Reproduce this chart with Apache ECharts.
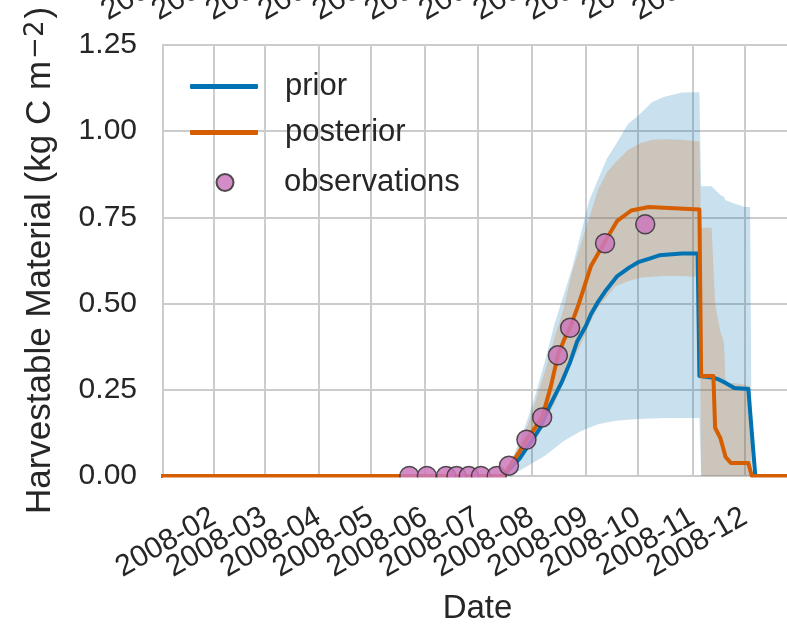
<!DOCTYPE html>
<html>
<head>
<meta charset="utf-8">
<title>Harvestable Material</title>
<script src="https://cdn.jsdelivr.net/npm/echarts@6/dist/echarts.min.js"></script>
<style>
  html, body { margin: 0; padding: 0; width: 787px; height: 624px; overflow: hidden; background: #fff; }
  #chart { width: 800px; height: 624px; }
</style>
</head>
<body>
<div id="chart"></div>
<script>
// 不确定区间（先验 / 后验）共用的日期
const bandDates = [
  '2008-01-01', '2008-07-14', '2008-07-20', '2008-07-25', '2008-07-30', '2008-08-04',
  '2008-08-09', '2008-08-14', '2008-08-19', '2008-08-24', '2008-08-29', '2008-09-03',
  '2008-09-08', '2008-09-13', '2008-09-18', '2008-09-25', '2008-10-02', '2008-10-09',
  '2008-10-16', '2008-10-26', '2008-11-05', '2008-11-06', '2008-11-12', '2008-11-14',
  '2008-11-17', '2008-11-19', '2008-11-20', '2008-11-25', '2008-12-01', '2008-12-04',
  '2008-12-05', '2008-12-31'
];
const priorLow = [
  0, 0, 0, 0.015, 0.03, 0.045, 0.06, 0.08, 0.10, 0.115, 0.13, 0.14,
  0.15, 0.155, 0.16, 0.163, 0.165, 0.167, 0.168, 0.168, 0.168, 0, 0, 0,
  0, 0, 0, 0, 0, 0, 0, 0
];
const priorHigh = [
  0, 0, 0.04, 0.10, 0.17, 0.25, 0.34, 0.44, 0.52, 0.60, 0.70, 0.80,
  0.86, 0.92, 0.96, 1.02, 1.05, 1.085, 1.10, 1.112, 1.113, 0.84, 0.84, 0.83,
  0.815, 0.81, 0.80, 0.79, 0.78, 0.78, 0, 0
];
const postLow = [
  0, 0, 0.02, 0.05, 0.08, 0.11, 0.16, 0.21, 0.27, 0.33, 0.38, 0.44,
  0.49, 0.52, 0.55, 0.565, 0.575, 0.578, 0.58, 0.58, 0.577, 0, 0, 0,
  0, 0, 0, 0, 0, 0, 0, 0
];
const postHigh = [
  0, 0, 0.04, 0.09, 0.15, 0.23, 0.31, 0.40, 0.48, 0.59, 0.67, 0.75,
  0.83, 0.88, 0.91, 0.945, 0.965, 0.975, 0.977, 0.975, 0.97, 0.72, 0.72, 0.50,
  0.42, 0.39, 0.27, 0.27, 0.265, 0.26, 0, 0
];

// 先验均值
const priorDates = [
  '2008-01-01', '2008-07-16', '2008-07-21', '2008-07-25', '2008-07-29', '2008-08-02',
  '2008-08-06', '2008-08-10', '2008-08-14', '2008-08-18', '2008-08-23', '2008-08-27',
  '2008-09-01', '2008-09-04', '2008-09-08', '2008-09-12', '2008-09-19', '2008-09-26',
  '2008-10-01', '2008-10-07', '2008-10-13', '2008-10-26', '2008-11-04', '2008-11-05',
  '2008-11-13', '2008-11-16', '2008-11-20', '2008-11-25', '2008-12-03', '2008-12-04',
  '2008-12-07', '2008-12-31'
];
const priorMean = [
  0, 0, 0.03, 0.05, 0.08, 0.11, 0.14, 0.19, 0.23, 0.27, 0.33, 0.39,
  0.435, 0.47, 0.505, 0.535, 0.58, 0.605, 0.62, 0.63, 0.64, 0.645, 0.645, 0.29,
  0.285, 0.28, 0.27, 0.255, 0.252, 0.25, 0, 0
];

// 后验均值
const postDates = [
  '2008-01-01', '2008-07-16', '2008-07-19', '2008-07-21', '2008-07-25', '2008-07-29',
  '2008-08-03', '2008-08-07', '2008-08-12', '2008-08-16', '2008-08-20', '2008-08-23',
  '2008-08-28', '2008-09-04', '2008-09-12', '2008-09-19', '2008-09-27', '2008-10-07',
  '2008-11-05', '2008-11-06', '2008-11-13', '2008-11-14', '2008-11-17', '2008-11-20',
  '2008-11-23', '2008-12-03', '2008-12-05', '2008-12-31'
];
const postMean = [
  0, 0, 0.025, 0.04, 0.07, 0.105, 0.14, 0.17, 0.26, 0.35, 0.40, 0.43,
  0.50, 0.61, 0.68, 0.74, 0.77, 0.78, 0.773, 0.29, 0.29, 0.14, 0.11, 0.055,
  0.038, 0.038, 0, 0
];

// 观测值
const obsDates = [
  '2008-05-23', '2008-06-02', '2008-06-13', '2008-06-19', '2008-06-26', '2008-07-03',
  '2008-07-12', '2008-07-19', '2008-07-29', '2008-08-07', '2008-08-16', '2008-08-23',
  '2008-09-12', '2008-10-05'
];
const obsValues = [0, 0, 0, 0, 0, 0, 0, 0.03, 0.105, 0.17, 0.35, 0.43, 0.675, 0.73];

const yTicks = [0, 0.25, 0.5, 0.75, 1.0, 1.25];

const textColor = '#262626';
const gridColor = '#cccccc';
const fontFamily = '"Liberation Sans", Arial, sans-serif';

function zip(dates, values) {
  return dates.map((d, i) => [d, values[i]]);
}
function diff(hi, lo) {
  return hi.map((v, i) => v - lo[i]);
}
function monthLabel(val) {
  const d = new Date(val);
  const m = d.getMonth() + 1;
  return d.getFullYear() + '-' + (m < 10 ? '0' + m : m);
}

const chart = echarts.init(document.getElementById('chart'), null, { renderer: 'canvas' });

const xBase = {
  type: 'time',
  min: '2008-01-03',
  max: '2008-12-28',
  minInterval: 28 * 86400000,
  maxInterval: 31 * 86400000,
  axisLine: { show: false },
  axisTick: { show: false }
};

const legendText = {
  fontSize: 31, color: textColor, lineHeight: 31, fontFamily: fontFamily
};

const option = {
  animation: false,
  backgroundColor: '#fff',
  textStyle: { fontFamily: fontFamily },
  grid: {
    left: 163, top: 45, right: 8, bottom: 148,
    outerBoundsMode: 'none',
    containLabel: false,
    show: true, borderColor: gridColor, borderWidth: 2, backgroundColor: 'transparent'
  },
  legend: [
    {
      data: [{ name: 'prior', icon: 'roundRect' }, { name: 'posterior', icon: 'roundRect' }],
      orient: 'vertical', left: 185, top: 66,
      itemWidth: 68, itemHeight: 5, itemGap: 15,
      selectedMode: false,
      formatter: name => '{gap|}' + name,
      textStyle: Object.assign({ rich: { gap: { width: 22 } } }, legendText)
    },
    {
      data: [{ name: 'observations', icon: 'circle' }],
      orient: 'vertical', left: 210.5, top: 162,
      itemWidth: 17, itemHeight: 17,
      selectedMode: false,
      formatter: name => '{gap|}' + name,
      textStyle: Object.assign({ rich: { gap: { width: 45.5 } } }, legendText)
    }
  ],
  xAxis: [
    Object.assign({}, xBase, {
      position: 'bottom',
      name: 'Date',
      nameLocation: 'middle',
      nameGap: 116,
      nameTextStyle: { fontSize: 33, color: textColor, fontFamily: fontFamily },
      axisLabel: {
        rotate: 30, margin: 39, fontSize: 30, color: textColor,
        align: 'right', verticalAlign: 'middle',
        showMinLabel: false, showMaxLabel: false,
        formatter: monthLabel
      },
      splitLine: { show: true, lineStyle: { color: gridColor, width: 2 } }
    }),
    Object.assign({}, xBase, {
      position: 'top',
      axisLabel: {
        show: true,
        rotate: -30, margin: 95, fontSize: 30, color: textColor,
        align: 'right', verticalAlign: 'middle',
        showMinLabel: false, showMaxLabel: false,
        formatter: val => monthLabel(val) + '  '
      },
      splitLine: { show: false }
    })
  ],
  yAxis: {
    type: 'value',
    min: 0, max: 1.25, interval: 0.25,
    name: 'Harvestable Material (kg C m{sup|\u22122})',
    nameLocation: 'middle',
    nameGap: 105,
    nameTextStyle: {
      fontSize: 35, color: textColor, fontFamily: fontFamily,
      rich: {
        sup: { fontSize: 26, color: textColor, verticalAlign: 'top', padding: [0, 2, 0, 2], fontFamily: '"DejaVu Sans", sans-serif' }
      }
    },
    axisLine: { show: false },
    axisTick: { show: false },
    axisLabel: {
      fontSize: 30, color: textColor, margin: 26,
      formatter: v => yTicks.indexOf(v) >= 0 ? v.toFixed(2) : ''
    },
    splitLine: { show: true, lineStyle: { color: gridColor, width: 2 } }
  },
  graphic: [
    // 模拟绘图区下边缘的裁剪
    { type: 'rect', left: 163, top: 477.5, shape: { width: 640, height: 12 }, style: { fill: '#fff' }, z: 100 }
  ],
  series: [
    {
      name: 'priorLow', type: 'line', stack: 'prior', data: zip(bandDates, priorLow),
      showSymbol: false, symbol: 'none', lineStyle: { opacity: 0 }, z: 1, silent: true
    },
    {
      name: 'priorBand', type: 'line', stack: 'prior', data: zip(bandDates, diff(priorHigh, priorLow)),
      showSymbol: false, symbol: 'none', lineStyle: { opacity: 0 },
      areaStyle: { color: 'rgba(1,115,178,0.3)' }, z: 1, silent: true
    },
    {
      name: 'postLow', type: 'line', stack: 'post', data: zip(bandDates, postLow),
      showSymbol: false, symbol: 'none', lineStyle: { opacity: 0 }, z: 2, silent: true
    },
    {
      name: 'postBand', type: 'line', stack: 'post', data: zip(bandDates, diff(postHigh, postLow)),
      showSymbol: false, symbol: 'none', lineStyle: { opacity: 0 },
      areaStyle: { color: 'rgba(213,94,0,0.3)' }, z: 2, silent: true
    },
    {
      name: 'prior', type: 'line', data: zip(priorDates, priorMean),
      showSymbol: false, symbol: 'none', color: '#0173b2',
      lineStyle: { width: 4, color: '#0173b2', cap: 'round', join: 'round' }, z: 3
    },
    {
      name: 'posterior', type: 'line', data: zip(postDates, postMean),
      showSymbol: false, symbol: 'none', color: '#d55e00',
      lineStyle: { width: 4, color: '#d55e00', cap: 'round', join: 'round' }, z: 4
    },
    {
      name: 'observations', type: 'scatter', xAxisIndex: 1, data: zip(obsDates, obsValues),
      symbol: 'circle', symbolSize: 19,
      itemStyle: { color: '#cc78bc', opacity: 0.85, borderColor: '#333333', borderWidth: 1.5 },
      z: 5
    }
  ]
};

chart.setOption(option);
</script>
</body>
</html>
